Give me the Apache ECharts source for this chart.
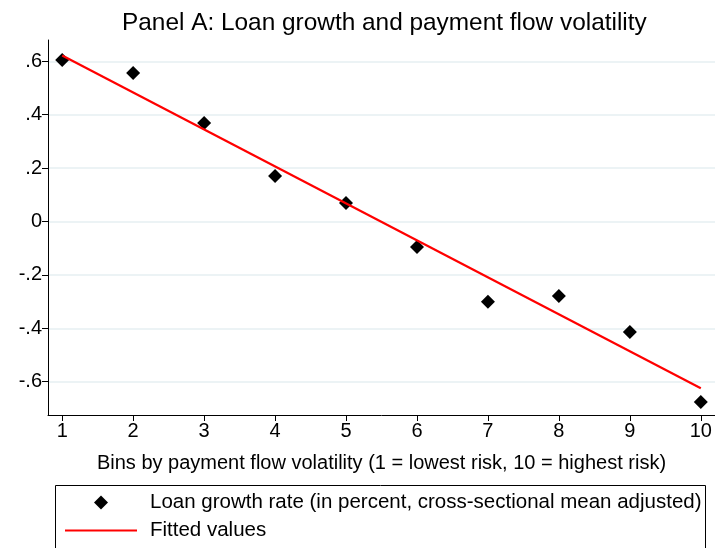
<!DOCTYPE html>
<html>
<head>
<meta charset="utf-8">
<script src="https://cdn.jsdelivr.net/npm/echarts@6/dist/echarts.min.js"></script>
<style>
  html, body { margin: 0; padding: 0; background: #fff; }
  #chart { width: 715px; height: 548px; }
</style>
</head>
<body>
<div id="chart"></div>
<script>
// bins 1..10
const bins = [1, 2, 3, 4, 5, 6, 7, 8, 9, 10];
// loan growth rate per bin
const loanGrowth = [0.605, 0.556, 0.369, 0.170, 0.069, -0.096, -0.301, -0.279, -0.414, -0.676];
// fitted line, end points
const fitX = [1, 10];
const fitY = [0.622, -0.625];
// tick values / labels
const yTicks = [-0.6, -0.4, -0.2, 0, 0.2, 0.4, 0.6];
const yTickLabels = ['-.6', '-.4', '-.2', '0', '.2', '.4', '.6'];
const xTicks = bins;

const scatterName = 'Loan growth rate (in percent, cross-sectional mean adjusted)';
const fitName = 'Fitted values';

const font = 'Arial, "Liberation Sans", sans-serif';
const chart = echarts.init(document.getElementById('chart'));

chart.setOption({
  animation: false,
  title: {
    text: 'Panel A: Loan growth and payment flow volatility',
    left: 117,
    top: 6,
    textStyle: { fontFamily: font, fontSize: 24.4, fontWeight: 'normal', color: '#000' },
  },
  grid: { left: 48, right: 0, top: 40, bottom: 133, containLabel: false },
  xAxis: {
    type: 'value',
    min: 0.8,
    max: 10.2,
    name: 'Bins by payment flow volatility (1 = lowest risk, 10 = highest risk)',
    nameLocation: 'middle',
    nameGap: 38,
    nameTextStyle: { fontFamily: font, fontSize: 20, color: '#000' },
    axisLine: { onZero: false, lineStyle: { color: '#000', width: 1 } },
    axisTick: { customValues: xTicks, length: 6, lineStyle: { color: '#000' } },
    axisLabel: {
      customValues: xTicks,
      fontFamily: font, fontSize: 20, color: '#000', margin: 6,
    },
    splitLine: { show: false },
  },
  yAxis: {
    type: 'value',
    min: -0.725,
    max: 0.68,
    axisLine: { show: true, lineStyle: { color: '#000', width: 1 } },
    axisTick: { show: true, customValues: yTicks, length: 6, lineStyle: { color: '#000' } },
    axisLabel: {
      customValues: yTicks,
      fontFamily: font, fontSize: 20, color: '#000', margin: 6,
      formatter: (v) => {
        const i = yTicks.findIndex((t) => Math.abs(t - v) < 1e-6);
        return i >= 0 ? yTickLabels[i] : '';
      },
    },
    splitLine: { show: true, lineStyle: { color: '#e6eff2', width: 1.5 } },
  },
  legend: [
    {
      left: 94,
      top: 492,
      padding: 0,
      itemWidth: 14,
      itemHeight: 14,
      textStyle: { fontFamily: font, fontSize: 20.5, color: '#000', padding: [0, 0, 0, 37] },
      data: [{ name: scatterName, icon: 'diamond' }],
    },
    {
      left: 65,
      top: 520,
      padding: 0,
      itemWidth: 72,
      itemHeight: 2,
      textStyle: { fontFamily: font, fontSize: 20.5, color: '#000', padding: [0, 0, 0, 8] },
      data: [{ name: fitName, icon: 'rect' }],
    },
  ],
  graphic: [
    {
      type: 'rect',
      shape: { x: 55.5, y: 485.5, width: 650, height: 80 },
      style: { fill: 'none', stroke: '#000', lineWidth: 1 },
    },
  ],
  series: [
    {
      name: scatterName,
      type: 'scatter',
      symbol: 'diamond',
      symbolSize: 14,
      itemStyle: { color: '#000', opacity: 1 },
      data: bins.map((b, i) => [b, loanGrowth[i]]),
      z: 3,
    },
    {
      name: fitName,
      type: 'line',
      symbol: 'none',
      lineStyle: { color: '#ff0000', width: 2.2 },
      itemStyle: { color: '#ff0000' },
      data: fitX.map((x, i) => [x, fitY[i]]),
      z: 4,
    },
  ],
});
</script>
</body>
</html>
